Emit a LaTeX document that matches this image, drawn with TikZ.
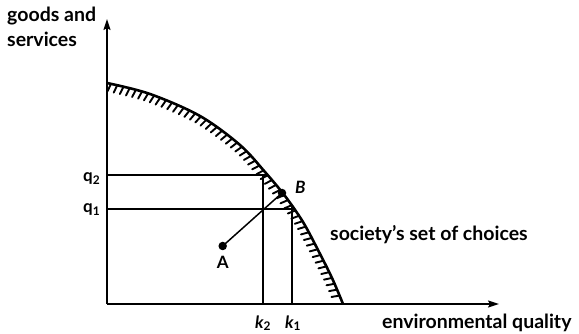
\documentclass[tikz,border=0pt]{standalone}
\usepackage{fontspec}
\setmainfont{Lato}
\usetikzlibrary{arrows.meta,decorations.markings}
\begin{document}
\begin{tikzpicture}[x=1pt,y=-1pt,
  axis/.style={line width=1.7pt,-{Stealth[length=11pt,width=7pt,inset=2pt]}},
  guide/.style={line width=1.5pt},
  frontier/.style={line width=2.6pt},
  hatch/.style={postaction={decorate},decoration={markings,
     mark=between positions 0.012 and 0.985 step 6.4pt with {\draw[line width=1.9pt,line cap=round] (0pt,0pt) -- (-1.8pt,-8pt);}}},
  lbl/.style={font=\bfseries\fontsize{19.5}{25}\selectfont,inner sep=0pt},
  sym/.style={font=\bfseries\fontsize{17}{18}\selectfont,inner sep=0pt},
  dot/.style={circle,fill=black,inner sep=0pt,minimum size=8.5pt}]
\useasboundingbox (0,0) rectangle (579,334);
% axes
\coordinate (O) at (107,304);
\coordinate (Ytip) at (107,19);
\coordinate (Xtip) at (499,304);
\draw[axis] (O) -- (Ytip);
\draw[axis] (O) -- (Xtip);
% frontier
\draw[frontier,hatch] plot[smooth,tension=0.55] coordinates {(107,83) (150,94) (200,116) (240,145) (265,172) (285,196) (303,222) (318,250) (332,278) (343,304)};
% guide lines
\coordinate (Q2) at (107,175);
\coordinate (Q1) at (107,209);
\coordinate (K2) at (263,304);
\coordinate (K1) at (292,304);
\coordinate (C2) at (267,175);
\coordinate (C1) at (294,209);
\coordinate (T1) at (292,207);
\draw[guide] (Q2) -- (C2);
\draw[guide] (Q1) -- (C1);
\draw[guide] (K2) -- (K2 |- Q2);
\draw[guide] (K1) -- (T1);
% points
\node[dot] (A) at (222.7,246) {};
\node[dot] (B) at (282,193) {};
\draw[guide] (A.center) -- (B.center);
% labels
\node[lbl,anchor=base west] (yl1) at (7,21.5) {goods and};
\node[lbl,anchor=base west] (yl2) at (7,46.5) {services};
\node[lbl,anchor=base west] (xl) at (382,328) {environmental quality};
\node[lbl,anchor=base west] (sl) at (330,240.5) {society’s set of choices};
\node[sym,anchor=base] (Al) at (222.7,268.3) {A};
\node[sym,anchor=base west] (Bl) at (295,193.3) {\itshape B};
\node[sym,anchor=base west] (q2) at (83,181.7) {q\textsubscript{2}};
\node[sym,anchor=base west] (q1) at (83,212.7) {q\textsubscript{1}};
\node[sym,anchor=base west] (k2) at (255,328) {\itshape k\textsubscript{\upshape 2}};
\node[sym,anchor=base west] (k1) at (285,328) {\itshape k\textsubscript{\upshape 1}};
\end{tikzpicture}
\end{document}
